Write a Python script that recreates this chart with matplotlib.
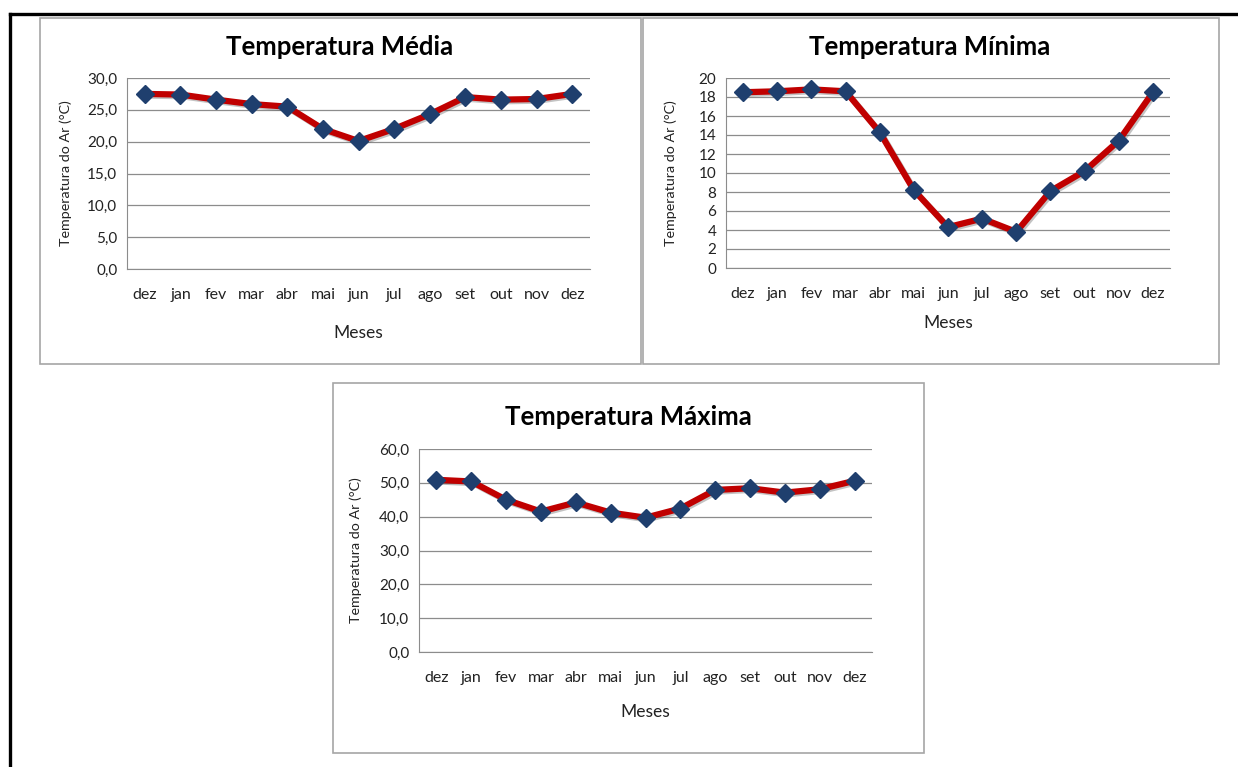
import matplotlib
matplotlib.use("Agg")
import matplotlib.pyplot as plt
import matplotlib.patheffects as pe
from matplotlib.lines import Line2D
from matplotlib.patches import Rectangle
from matplotlib.ticker import FuncFormatter

plt.rcParams['font.family'] = ['Lato', 'DejaVu Sans']

meses = ["dez", "jan", "fev", "mar", "abr", "mai", "jun", "jul", "ago", "set", "out", "nov", "dez"]
temp_media = [27.5, 27.4, 26.6, 25.9, 25.5, 22.0, 20.1, 22.0, 24.3, 27.0, 26.6, 26.7, 27.5]
temp_minima = [18.5, 18.6, 18.8, 18.6, 14.3, 8.2, 4.3, 5.2, 3.8, 8.1, 10.2, 13.4, 18.5]
temp_maxima = [50.9, 50.4, 45.0, 41.5, 44.2, 41.2, 39.7, 42.4, 47.9, 48.4, 47.1, 48.1, 50.6]

W, H = 1238, 767
fig = plt.figure(figsize=(W / 100, H / 100), dpi=100)
fig.patch.set_facecolor("white")


def fx(px):
    return px / W


def fy(py):
    return 1 - py / H


# moldura preta
fig.add_artist(Line2D([fx(10), fx(1238)], [fy(14), fy(14)], color="black", lw=2.4))
fig.add_artist(Line2D([fx(10), fx(10)], [fy(14), fy(767)], color="black", lw=2.4))

# caixas cinzas dos graficos
caixas = [(40, 18, 641, 364), (643, 18, 1219, 364), (333, 383, 924, 753)]
for x0, y0, x1, y1 in caixas:
    fig.add_artist(Rectangle((fx(x0), fy(y1)), fx(x1) - fx(x0), fy(y0) - fy(y1),
                             fill=False, edgecolor="#a6a6a6", lw=1.2))

sombra = [pe.SimpleLineShadow(offset=(1.2, -1.2), shadow_color="#555555", alpha=0.35), pe.Normal()]


def grafico(pos, valores, titulo, ymax, passo, fmt, tit_xy, meses_y, ylab_x):
    l, t, r, b = pos
    ax = fig.add_axes([fx(l), fy(b), fx(r) - fx(l), fy(t) - fy(b)])
    x = list(range(len(meses)))
    ax.plot(x, valores, color="#c00000", lw=4.5, zorder=3, solid_joinstyle="round",
            path_effects=sombra)
    ax.plot(x, valores, linestyle="none", marker="D", ms=9, color="#1f3f6e",
            markeredgecolor="#1f3f6e", zorder=4)
    ax.set_xlim(-0.5, len(meses) - 0.5)
    ax.set_ylim(0, ymax)
    ax.set_yticks([v * passo for v in range(int(ymax / passo) + 1)])
    ax.yaxis.set_major_formatter(FuncFormatter(fmt))
    ax.set_xticks(x)
    ax.set_xticklabels(meses)
    ax.grid(axis="y", color="#8c8c8c", lw=0.9)
    ax.set_axisbelow(True)
    for s in ["top", "right"]:
        ax.spines[s].set_visible(False)
    ax.spines["left"].set_color("#8c8c8c")
    ax.spines["bottom"].set_color("#8c8c8c")
    ax.tick_params(axis="both", length=0, colors="#222222")
    ax.tick_params(axis="x", pad=14, labelsize=11.5)
    ax.tick_params(axis="y", pad=7, labelsize=11)
    fig.text(fx(tit_xy[0]), fy(tit_xy[1]), titulo, ha="center", va="center",
             fontsize=18.5, fontweight="bold")
    fig.text(fx((l + r) / 2), fy(meses_y), "Meses", ha="center", va="center",
             fontsize=12.5, color="#222222")
    fig.text(fx(ylab_x), fy((t + b) / 2), "Temperatura do Ar (°C)", ha="center", va="center",
             rotation=90, fontsize=10.3, color="#222222")
    return ax


virgula = lambda v, p: ("%.1f" % v).replace(".", ",")
inteiro = lambda v, p: "%d" % v

grafico((127, 78, 590, 269), temp_media, "Temperatura Média", 30, 5, virgula,
        (340, 47), 333, 66)
grafico((726, 78, 1170, 268), temp_minima, "Temperatura Mínima", 20, 2, inteiro,
        (930, 47), 323, 671)
grafico((419, 449, 872, 652), temp_maxima, "Temperatura Máxima", 60, 10, virgula,
        (628, 417), 712, 356)

fig.savefig("out.png", dpi=100)
